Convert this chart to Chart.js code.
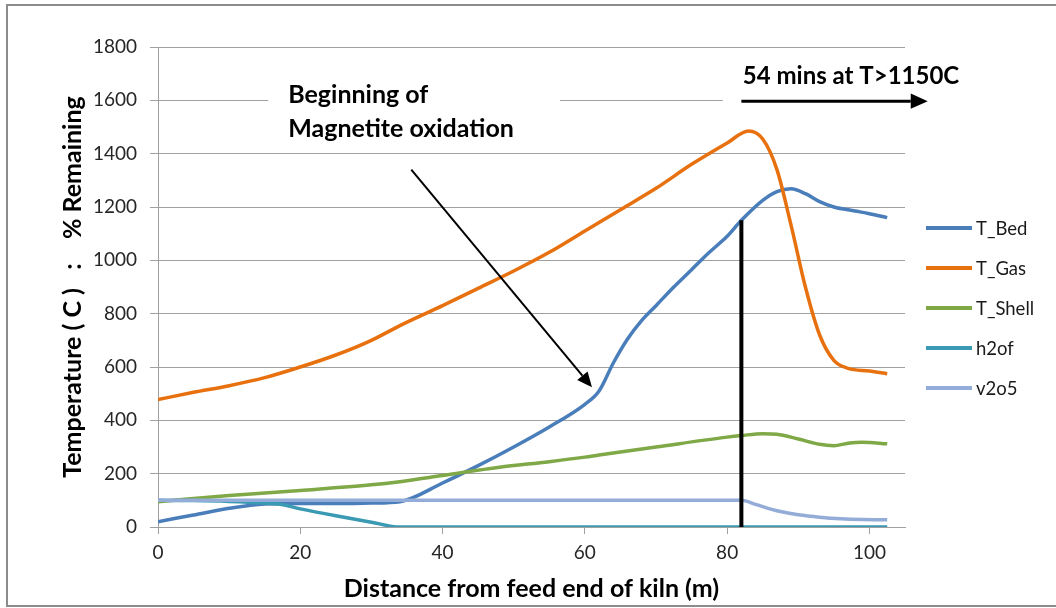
<!DOCTYPE html>
<html>
<head>
<meta charset="utf-8">
<title>Kiln temperature profile</title>
<script src="https://cdn.jsdelivr.net/npm/chart.js@4.4.1/dist/chart.umd.min.js"></script>
<style>
    html, body { margin: 0; padding: 0; background: #fff; overflow: hidden; }
    #frame {
        position: absolute; left: 6px; top: 4px; width: 1100px; height: 603px;
        border: 2px solid #8c8c8c; box-sizing: border-box;
    }
    #kilnChart { position: absolute; left: 0; top: 0; }
</style>
</head>
<body>
<div id="frame"></div>
<canvas id="kilnChart" width="1056" height="608"></canvas>
<script>
// Values (distance in m, temperature in C / % remaining)
const bedX    = [0, 5, 10, 15, 20, 25, 30, 34, 40, 45, 50, 55, 60, 62, 64, 66, 68, 70, 72.5, 75, 77.5, 80, 82, 85, 87, 89, 91, 93, 95, 98, 100, 102.5];
const bedTemp = [20, 45, 70, 86, 88, 88, 90, 95, 165, 230, 300, 375, 460, 510, 615, 705, 775, 830, 900, 965, 1030, 1090, 1150, 1225, 1258, 1268, 1250, 1220, 1200, 1185, 1175, 1160];

const gasX    = [0, 5, 10, 15, 20, 25, 30, 34, 40, 45, 50, 55, 60, 65, 70, 75, 80, 83, 85, 87, 89, 91, 93, 95, 97, 100, 102.5];
const gasTemp = [478, 505, 530, 560, 600, 645, 700, 755, 830, 895, 960, 1030, 1110, 1190, 1270, 1360, 1440, 1485, 1455, 1340, 1130, 900, 720, 625, 595, 585, 575];

const shellX    = [0, 10, 20, 30, 34, 40, 48, 55, 60, 62, 70, 80, 82, 85, 87, 90, 93, 95, 97, 99, 102.5];
const shellTemp = [95, 118, 137, 158, 170, 193, 224, 245, 262, 270, 300, 337, 343, 350, 348, 330, 310, 305, 314, 318, 312];

const h2oX      = [0, 5, 10, 15, 17, 20, 25, 30, 34, 40, 50, 60, 70, 80, 90, 102.5];
const h2oRemain = [100, 99, 96, 90, 86, 68, 42, 18, 0, 0, 0, 0, 0, 0, 0, 0];

const v2o5X      = [0, 20, 40, 60, 80, 82, 84, 86, 88, 90, 93, 96, 99, 102.5];
const v2o5Remain = [100, 100, 100, 100, 100, 100, 85, 68, 55, 46, 37, 31, 28, 27];

const X_TICKS = [0, 20, 40, 60, 80, 100];

const FONT = 'Lato, "Open Sans", sans-serif';

const SERIES = [
    { label: 'T_Bed',   xs: bedX,   ys: bedTemp,    color: '#4a7ebb' },
    { label: 'T_Gas',   xs: gasX,   ys: gasTemp,    color: '#e8710f' },
    { label: 'T_Shell', xs: shellX, ys: shellTemp,  color: '#7fa846' },
    { label: 'h2of',    xs: h2oX,   ys: h2oRemain,  color: '#3a99b3' },
    { label: 'v2o5',    xs: v2o5X,  ys: v2o5Remain, color: '#93acd8' }
];

// Annotations in data units: white text boxes, marker line, arrows, notes
const NOTE_BOXES = [
    { x0: 15.5, x1: 56.5, y0: 1420, y1: 1690 },
    { x0: 79.4, x1: 125, y0: 1545, y1: 1765 }
];
const HOT_ZONE_START = 82;
const HOT_ZONE_TEMP = 1150;
const ARROWS = [
    { from: [35.6, 1340], to: [61.0, 524], width: 2, head: 15 },
    { from: [82, 1597], to: [108.2, 1597], width: 3, head: 17 }
];
const NOTES = [
    { text: 'Beginning of', x: 18.3, y: 1590, size: 25 },
    { text: 'Magnetite oxidation', x: 18.3, y: 1462, size: 25 },
    { text: '54 mins at T>1150C', x: 82.2, y: 1660, size: 24 }
];

function toPoints(xs, ys) {
    return xs.map((x, i) => ({ x, y: ys[i] }));
}

function drawArrow(ctx, x1, y1, x2, y2, width, head) {
    const angle = Math.atan2(y2 - y1, x2 - x1);
    const baseX = x2 - head * Math.cos(angle);
    const baseY = y2 - head * Math.sin(angle);
    ctx.lineWidth = width;
    ctx.beginPath();
    ctx.moveTo(x1, y1);
    ctx.lineTo(baseX, baseY);
    ctx.stroke();
    ctx.beginPath();
    ctx.moveTo(x2, y2);
    ctx.lineTo(baseX + head * 0.45 * Math.sin(angle), baseY - head * 0.45 * Math.cos(angle));
    ctx.lineTo(baseX - head * 0.45 * Math.sin(angle), baseY + head * 0.45 * Math.cos(angle));
    ctx.closePath();
    ctx.fill();
}

const kilnNotes = {
    id: 'kilnNotes',
    beforeDatasetsDraw(chart) {
        const { ctx, scales: { x, y } } = chart;
        ctx.save();
        ctx.fillStyle = '#fff';
        NOTE_BOXES.forEach(b => {
            const left = x.getPixelForValue(b.x0);
            const right = x.getPixelForValue(b.x1);
            const top = y.getPixelForValue(b.y1);
            const bottom = y.getPixelForValue(b.y0);
            ctx.fillRect(left, top, right - left, bottom - top);
        });
        ctx.restore();
    },
    afterDatasetsDraw(chart) {
        const { ctx, scales: { x, y } } = chart;
        ctx.save();
        ctx.strokeStyle = '#000';
        ctx.fillStyle = '#000';

        // marker at the start of the hot zone
        ctx.lineWidth = 4;
        ctx.beginPath();
        ctx.moveTo(x.getPixelForValue(HOT_ZONE_START), y.getPixelForValue(0));
        ctx.lineTo(x.getPixelForValue(HOT_ZONE_START), y.getPixelForValue(HOT_ZONE_TEMP));
        ctx.stroke();

        ARROWS.forEach(a => {
            drawArrow(ctx,
                x.getPixelForValue(a.from[0]), y.getPixelForValue(a.from[1]),
                x.getPixelForValue(a.to[0]), y.getPixelForValue(a.to[1]),
                a.width, a.head);
        });

        ctx.textAlign = 'left';
        ctx.textBaseline = 'alphabetic';
        NOTES.forEach(n => {
            ctx.font = 'bold ' + n.size + 'px ' + FONT;
            ctx.fillText(n.text, x.getPixelForValue(n.x), y.getPixelForValue(n.y));
        });

        // legend, Excel style: short line then label
        ctx.font = '18.5px ' + FONT;
        ctx.textBaseline = 'middle';
        ctx.fillStyle = '#1a1a1a';
        SERIES.forEach((s, i) => {
            const ly = 228 + i * 40;
            ctx.strokeStyle = s.color;
            ctx.lineWidth = 4;
            ctx.beginPath();
            ctx.moveTo(926, ly);
            ctx.lineTo(972, ly);
            ctx.stroke();
            ctx.fillText(s.label, 976, ly + 1);
        });
        ctx.restore();
    }
};

const ctx = document.getElementById('kilnChart').getContext('2d');

new Chart(ctx, {
    type: 'line',
    data: {
        datasets: SERIES.map((s, i) => ({
            label: s.label,
            data: toPoints(s.xs, s.ys),
            borderColor: s.color,
            backgroundColor: s.color,
            borderWidth: 3.5,
            pointRadius: 0,
            cubicInterpolationMode: 'monotone',
            fill: false,
            order: SERIES.length - i
        }))
    },
    options: {
        responsive: false,
        animation: false,
        devicePixelRatio: 1,
        layout: { padding: { left: 58, right: 151, top: 47, bottom: 0 } },
        plugins: {
            legend: { display: false },
            tooltip: { enabled: false }
        },
        scales: {
            x: {
                type: 'linear',
                min: 0,
                max: 105,
                afterBuildTicks: scale => { scale.ticks = X_TICKS.map(v => ({ value: v })); },
                afterFit: scale => { scale.height = 81; },
                ticks: { color: '#262626', font: { family: FONT, size: 19 }, padding: 7, maxRotation: 0, callback: v => String(v) },
                grid: { drawOnChartArea: false, drawTicks: true, tickLength: 7, color: '#a0a0a0' },
                border: { color: '#a0a0a0' },
                title: {
                    display: true,
                    text: 'Distance from feed end of kiln (m)',
                    color: '#000',
                    font: { family: FONT, size: 25, weight: 'bold' },
                    padding: { top: 0, bottom: 4 }
                }
            },
            y: {
                min: 0,
                max: 1800,
                afterFit: scale => { scale.width = 100; },
                ticks: { stepSize: 200, color: '#262626', font: { family: FONT, size: 19 }, padding: 13, callback: v => String(v) },
                grid: { color: '#a0a0a0', tickLength: 8 },
                border: { color: '#a0a0a0' },
                title: {
                    display: true,
                    text: 'Temperature ( C )   :    % Remaining',
                    color: '#000',
                    font: { family: FONT, size: 25, weight: 'bold' },
                    padding: { top: 0, bottom: 0 }
                }
            }
        }
    },
    plugins: [kilnNotes]
});
</script>
</body>
</html>
